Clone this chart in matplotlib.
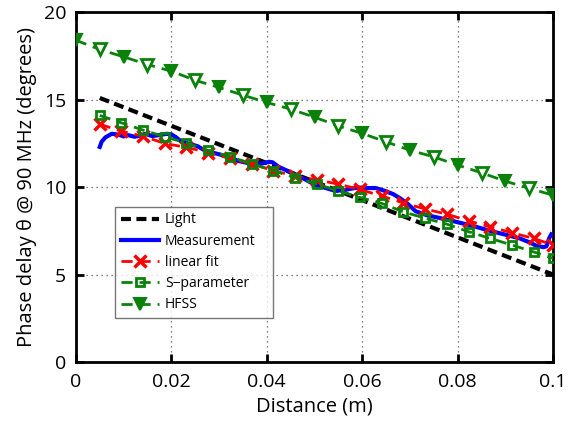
import numpy as np
import matplotlib
matplotlib.use("Agg")
import matplotlib.pyplot as plt

# ---- data ----
light_x = [0.005, 0.1]
light_y = [15.1, 5.0]

meas_x = [0.0050, 0.0054, 0.0062, 0.0075, 0.0090, 0.0100, 0.0110, 0.0123, 0.0135, 0.0145,
          0.0160, 0.0175, 0.0190, 0.0200, 0.0210, 0.0220, 0.0235, 0.0255, 0.0270, 0.0285,
          0.0300, 0.0320, 0.0340, 0.0365, 0.0390, 0.0405, 0.0412, 0.0425, 0.0450, 0.0480,
          0.0500, 0.0520, 0.0542, 0.0560, 0.0578, 0.0592, 0.0610, 0.0628, 0.0646, 0.0665,
          0.0680, 0.0695, 0.0712, 0.0735, 0.0760, 0.0790, 0.0830, 0.0868, 0.0905, 0.0930,
          0.0950, 0.0965, 0.0980, 0.0986, 0.0992, 0.0996]
meas_y = [12.3, 12.6, 12.85, 13.05, 13.0, 12.9, 12.97, 12.88, 12.95, 13.05,
          12.92, 12.98, 13.05, 13.02, 12.85, 12.62, 12.5, 12.34, 12.1, 11.98,
          11.88, 11.72, 11.5, 11.35, 11.35, 11.45, 11.42, 11.16, 10.85, 10.45,
          10.15, 9.98, 9.8, 9.82, 9.92, 9.98, 9.95, 9.95, 9.8, 9.6,
          9.35, 9.05, 8.62, 8.4, 8.25, 8.06, 7.8, 7.5, 7.25, 7.07,
          6.85, 6.65, 6.57, 6.62, 7.1, 7.3]

fit_x = [0.005, 0.0095, 0.0141, 0.0186, 0.0231, 0.0277, 0.0323, 0.0368, 0.0414, 0.0459, 0.0505,
         0.055, 0.0595, 0.0641, 0.0686, 0.0732, 0.0777, 0.0823, 0.0868, 0.0914, 0.0959, 0.1]
fit_y = [13.6, 13.2, 12.91, 12.5, 12.28, 11.98, 11.64, 11.33, 10.95, 10.62, 10.42,
         10.17, 9.87, 9.49, 9.10, 8.75, 8.46, 8.07, 7.73, 7.39, 7.07, 6.69]

spar_x = fit_x
spar_y = [14.1, 13.68, 13.26, 12.88, 12.53, 12.1, 11.73, 11.35, 10.93, 10.55, 10.17,
          9.79, 9.41, 9.07, 8.59, 8.22, 7.89, 7.45, 7.07, 6.69, 6.30, 5.93]

hfss_x = [0.0, 0.005, 0.01, 0.015, 0.02, 0.025, 0.03, 0.035, 0.04, 0.045, 0.05,
          0.055, 0.06, 0.065, 0.07, 0.075, 0.08, 0.085, 0.09, 0.095, 0.1]
hfss_y = [18.4, 17.87, 17.45, 17.01, 16.63, 16.11, 15.70, 15.26, 14.84, 14.46, 14.0,
          13.50, 13.07, 12.59, 12.11, 11.73, 11.26, 10.82, 10.34, 9.93, 9.54]

xticks = [0, 0.02, 0.04, 0.06, 0.08, 0.1]
xticklabels = ['0', '0.02', '0.04', '0.06', '0.08', '0.1']
yticks = [0, 5, 10, 15, 20]

plt.rcParams['font.family'] = ['Open Sans', 'DejaVu Sans']

fig = plt.figure(figsize=(5.75, 4.22), dpi=100)
ax = fig.add_axes([0.132, 0.142, 0.830, 0.829])

green = '#0a820a'
ax.plot(light_x, light_y, color='k', lw=3, dashes=(2.4, 1.3), label='Light', zorder=3)
ax.plot(meas_x, meas_y, color='#0000ff', lw=3, label='Measurement', zorder=4)
ax.plot(fit_x, fit_y, color='#ff0000', lw=2, dashes=(4, 2.5), marker='x', ms=9, mew=2.5,
        label='linear fit', zorder=5)
ax.plot(spar_x, spar_y, color=green, lw=2, dashes=(4, 2.5), marker='s', ms=6, mew=2,
        mfc='none', label='S\u2212parameter', zorder=5)
ax.plot(hfss_x, hfss_y, color=green, lw=2, dashes=(4, 2.5), marker='v', ms=9, mew=1.5,
        mfc=green, markevery=slice(0, None, 2), label='HFSS', zorder=5)
ax.plot(hfss_x, hfss_y, ls='none', marker='v', ms=9, mew=2, color=green, mfc='white',
        markevery=slice(1, None, 2), zorder=5)

ax.set_xlim(0, 0.1)
ax.set_ylim(0, 20)
ax.set_xticks(xticks)
ax.set_xticklabels(xticklabels)
ax.set_yticks(yticks)
ax.grid(True, linestyle=(0, (1, 3)), color='#555555', lw=0.9)
ax.tick_params(direction='in', length=6, width=2, top=True, right=True, labelsize=14)
ax.tick_params(axis='x', pad=8)
ax.tick_params(axis='y', pad=7)
for s in ax.spines.values():
    s.set_linewidth(2)
ax.set_xlabel('Distance (m)', fontsize=14.5, labelpad=4)
ax.set_ylabel('Phase delay \u03b8 @ 90 MHz (degrees)', fontsize=14.5, labelpad=5)

leg = ax.legend(loc='lower left', bbox_to_anchor=(0.082, 0.126, 0.331, 0.317), mode='expand',
                fontsize=10, frameon=True, fancybox=False, edgecolor='#555555',
                handlelength=2.8, handletextpad=0.4, borderpad=0.4, labelspacing=0.45,
                borderaxespad=0)
leg.get_frame().set_linewidth(1)

fig.savefig('out.png', dpi=100)
